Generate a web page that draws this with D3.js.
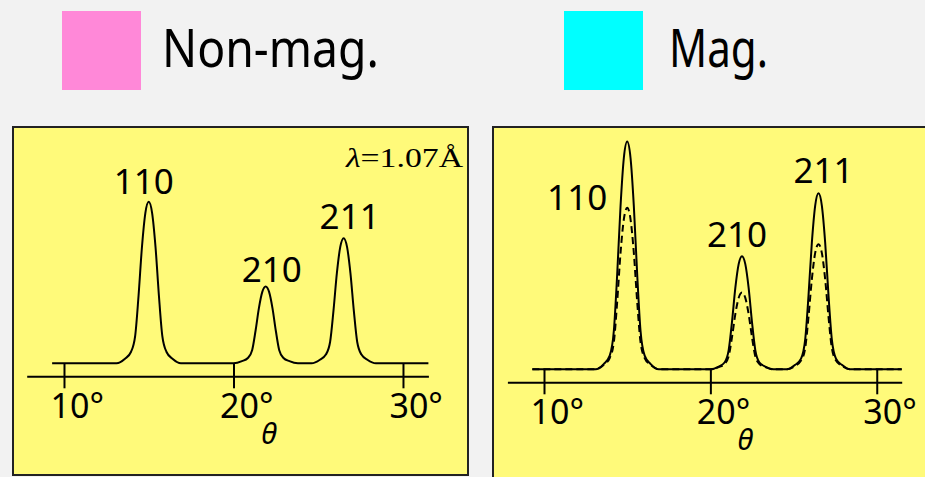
<!DOCTYPE html>
<html>
<head>
<meta charset="utf-8">
<script src="https://cdn.jsdelivr.net/npm/d3@7"></script>
<style>
  body { margin: 0; background: #f2f2f2; }
  svg { display: block; }
</style>
</head>
<body>
<div id="chart"></div>
<script>
// diffraction profile (theta in degrees, intensity with non-mag 110 = 100)
var theta = [9.3,
  13.1, 13.6, 13.95, 14.2, 14.4, 14.6, 14.8, 15.0, 15.2, 15.4, 15.6, 15.8, 16.05, 16.4, 16.9,
  20.0, 20.5, 20.85, 21.1, 21.3, 21.5, 21.7, 21.9, 22.1, 22.3, 22.5, 22.7, 22.95, 23.3, 23.8,
  24.6, 25.1, 25.45, 25.7, 25.9, 26.1, 26.3, 26.5, 26.7, 26.9, 27.1, 27.3, 27.55, 27.9, 28.4,
  31.5]

var nonMag = [0,
  0, 2.8, 7, 17, 42, 72, 93, 100, 93, 72, 42, 17, 7, 2.8, 0,
  0, 1.3, 3.3, 8.1, 20, 34.2, 44.2, 47.5, 44.2, 34.2, 20, 8.1, 3.3, 1.3, 0,
  0, 2.2, 5.4, 13.2, 32.6, 55.8, 72.1, 77.5, 72.1, 55.8, 32.6, 13.2, 5.4, 2.2, 0,
  0]

var mag = [0,
  0, 3.4, 8.5, 24, 59, 101, 131, 141, 131, 101, 59, 24, 8.5, 3.4, 0,
  0, 1.7, 4.2, 11.9, 29.4, 50.4, 65.1, 70, 65.1, 50.4, 29.4, 11.9, 4.2, 1.7, 0,
  0, 2.8, 6.6, 18.5, 45.8, 78.5, 101.4, 109, 101.4, 78.5, 45.8, 18.5, 6.6, 2.8, 0,
  0]

var peakLabels = ["110", "210", "211"]
var peakTheta = [15.0, 21.9, 26.5]
var peakNonMag = [100, 47.5, 77.5]
var peakMag = [141, 70, 109]

var tickValues = [10, 20, 30]
var legendLabels = ["Non-mag.", "Mag."]
var legendColors = ["#ff88d8", "#00ffff"]

var sansFont = "'Noto Sans', 'DejaVu Sans', sans-serif"
var panelFill = "#fffa7a"

var svg = d3.select("#chart")
  .append("svg")
  .attr("width", 925)
  .attr("height", 477)

// legend on top
var legendX = [62, 564],
    legendTextX = [162, 669],
    legendTextW = [217, 99]

legendLabels.forEach(function(lab, i){
  svg.append("rect")
    .attr("x", legendX[i])
    .attr("y", 11)
    .attr("width", 79)
    .attr("height", 79)
    .attr("fill", legendColors[i])

  svg.append("text")
    .attr("x", legendTextX[i])
    .attr("y", 67)
    .attr("textLength", legendTextW[i])
    .attr("lengthAdjust", "spacingAndGlyphs")
    .style("font-family", sansFont)
    .style("font-size", "52px")
    .text(lab)
})

var line = function(x, y, values){
  return d3.line()
    .x(function(d, i) { return x(theta[i]) })
    .y(function(d) { return y(d) })
    .curve(d3.curveMonotoneX)(values)
}

function drawPanel(p){

  // yellow frame
  svg.append("rect")
    .attr("x", p.box[0])
    .attr("y", p.box[1])
    .attr("width", p.box[2])
    .attr("height", p.box[3])
    .attr("fill", panelFill)
    .attr("stroke", "#222")
    .attr("stroke-width", 2)

  var x = d3.scaleLinear().domain([7.8, 31.5]).range(p.xRange)
  var y = d3.scaleLinear().domain([0, 100]).range([p.base, p.base - 161.5])

  var g = svg.append("g")

  // axis line below the curve baseline, ticks cross it
  var axis = g.append("g")
    .attr("transform", "translate(0," + (p.base + 13) + ")")
    .call(d3.axisBottom(x).tickValues(tickValues).tickSize(12).tickSizeOuter(0)
      .tickFormat(function(d) { return d + "°" }))

  axis.select(".domain").attr("stroke", "#000").attr("stroke-width", 2)
  axis.selectAll(".tick line")
    .attr("y1", -13)
    .attr("y2", 12)
    .attr("stroke", "#000")
    .attr("stroke-width", 2)
  axis.selectAll(".tick text")
    .attr("x", -14)
    .attr("y", 42)
    .attr("dy", 0)
    .attr("text-anchor", "start")
    .attr("fill", "#000")
    .style("font-family", sansFont)
    .style("font-size", "34px")

  // theta label
  g.append("text")
    .attr("x", x(22.1))
    .attr("y", p.base + 81)
    .attr("text-anchor", "middle")
    .style("font-family", sansFont)
    .style("font-style", "italic")
    .style("font-size", "29px")
    .text("θ")

  // curves
  p.curves.forEach(function(c){
    g.append("path")
      .attr("d", line(x, y, c.values))
      .attr("fill", "none")
      .attr("stroke", "#000")
      .attr("stroke-width", 2)
      .attr("stroke-dasharray", c.dash || null)
  })

  // peak labels
  g.selectAll(".peak-label")
    .data(peakLabels)
    .enter().append("text")
    .attr("class", "peak-label")
    .attr("x", function(d, i) { return x(peakTheta[i]) + p.labelDx[i] })
    .attr("y", function(d, i) { return y(p.labelRef[i]) + p.labelDy[i] })
    .attr("text-anchor", function(d, i) { return p.labelAnchor[i] })
    .style("font-family", sansFont)
    .style("font-size", "35px")
    .text(function(d) { return d })

  return x
}

// left panel: non-magnetic pattern
drawPanel({
  box: [13, 127, 455, 348],
  xRange: [26.7, 428.4],
  base: 363.3,
  curves: [{values: nonMag}],
  labelRef: peakNonMag,
  labelDx: [-5, 6, 6],
  labelDy: [-8, -5, -9],
  labelAnchor: ["middle", "middle", "middle"]
})

// wavelength note
var lambda = svg.append("text")
  .attr("x", 346)
  .attr("y", 167)
  .attr("textLength", 117)
  .attr("lengthAdjust", "spacingAndGlyphs")
  .style("font-family", "'Liberation Serif', 'DejaVu Serif', serif")
  .style("font-size", "27px")

lambda.append("tspan").style("font-style", "italic").text("λ")
lambda.append("tspan").text("=1.07Å")

// right panel: magnetic (solid) over non-magnetic (dashed)
drawPanel({
  box: [493, 127, 450, 370],
  xRange: [507.4, 901.7],
  base: 369.3,
  curves: [{values: nonMag, dash: "7,4"}, {values: mag}],
  labelRef: [peakNonMag[0], peakMag[1], peakMag[2]],
  labelDx: [-20, -5, 5],
  labelDy: [2, -9, -10],
  labelAnchor: ["end", "middle", "middle"]
})
</script>
</body>
</html>
